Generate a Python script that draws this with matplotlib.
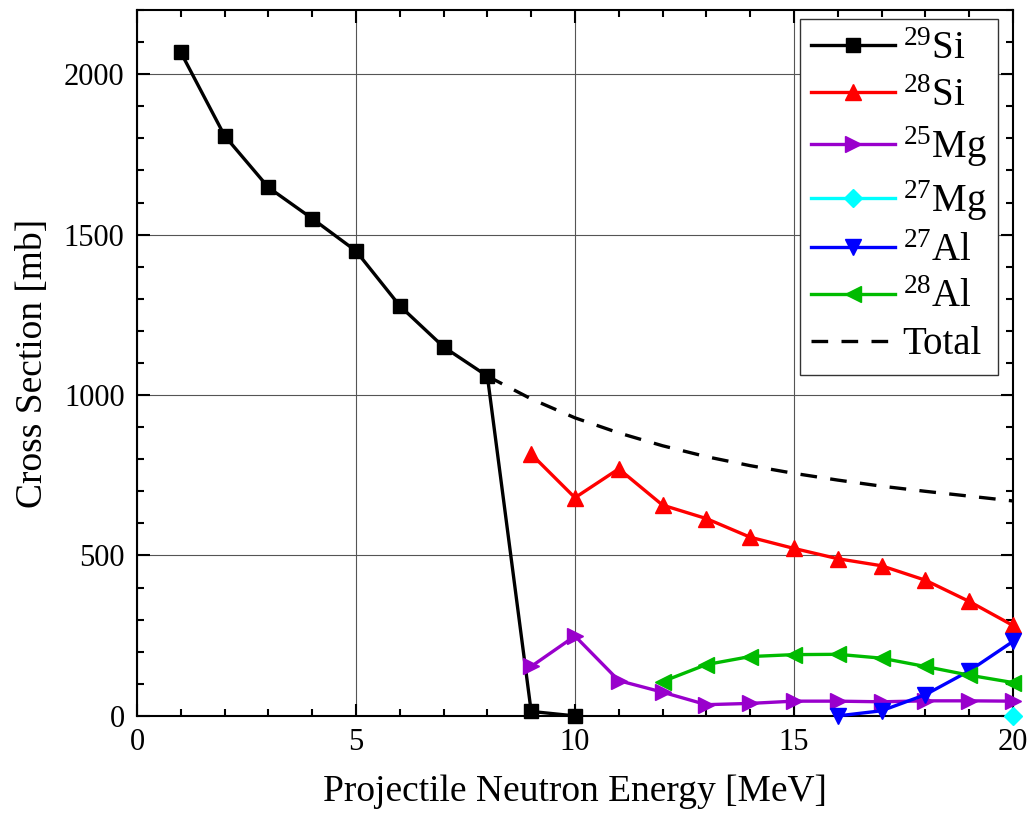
import numpy as np
import matplotlib
matplotlib.use("Agg")
import matplotlib.pyplot as plt
from matplotlib.ticker import MultipleLocator

plt.rcParams['font.family'] = 'Liberation Serif'
plt.rcParams['mathtext.fontset'] = 'custom'
plt.rcParams['mathtext.rm'] = 'Liberation Serif'
plt.rcParams['mathtext.it'] = 'Liberation Serif:italic'

# cross sections in mb vs projectile energy in MeV
e_si29 = [1, 2, 3, 4, 5, 6, 7, 8, 9, 10]
si29 = [2068, 1808, 1647, 1550, 1449, 1278, 1150, 1059, 14, 0]

e_si28 = [9, 10, 11, 12, 13, 14, 15, 16, 17, 18, 19, 20]
si28 = [816, 680, 770, 657, 615, 557, 522, 490, 468, 423, 357, 282]

e_mg25 = [9, 10, 11, 12, 13, 14, 15, 16, 17, 18, 19, 20]
mg25 = [154, 249, 110, 74, 35, 39, 46, 46, 44, 47, 47, 46]

e_mg27 = [20]
mg27 = [0]

e_al27 = [16, 17, 18, 19, 20]
al27 = [0, 16, 66, 140, 232]

e_al28 = [12, 13, 14, 15, 16, 17, 18, 19, 20]
al28 = [107, 160, 185, 191, 192, 180, 154, 127, 104]

e_total = [8, 9, 10, 11, 12, 13, 14, 15, 16, 17, 18, 19, 20]
total = [1059, 988, 929, 882, 842, 808, 780, 756, 735, 716, 700, 685, 670]

fig = plt.figure(figsize=(10.28, 8.21), dpi=100)
ax = fig.add_axes([0.1333, 0.128, 0.852, 0.8598])

lw = 2.4
ax.plot(e_si29, si29, '-s', color='black', lw=lw, ms=10, label=r'$^{29}$Si', clip_on=False, zorder=5)
ax.plot(e_si28, si28, '-^', color='#ff0000', lw=lw, ms=12, label=r'$^{28}$Si', clip_on=False, zorder=5)
ax.plot(e_mg25, mg25, '->', color='#9900cc', lw=lw, ms=12, label=r'$^{25}$Mg', clip_on=False, zorder=5)
ax.plot(e_mg27, mg27, '-D', color='#00ffff', lw=lw, ms=9, label=r'$^{27}$Mg', clip_on=False, zorder=7)
ax.plot(e_al27, al27, '-v', color='#0000ff', lw=lw, ms=12, label=r'$^{27}$Al', clip_on=False, zorder=5)
ax.plot(e_al28, al28, '-<', color='#00bb00', lw=lw, ms=12, label=r'$^{28}$Al', clip_on=False, zorder=5)
ax.plot(e_total, total, '--', color='black', lw=lw, dashes=(5, 4), label='Total', zorder=4)

ax.set_xlim(0, 20)
ax.set_ylim(0, 2200)
ax.xaxis.set_major_locator(MultipleLocator(5))
ax.xaxis.set_minor_locator(MultipleLocator(1))
ax.yaxis.set_major_locator(MultipleLocator(500))
ax.yaxis.set_minor_locator(MultipleLocator(100))
ax.tick_params(which='both', direction='in', top=True, right=True, width=1.5, labelsize=22)
ax.tick_params(which='major', length=9, pad=9)
ax.tick_params(which='minor', length=5)
for s in ax.spines.values():
    s.set_linewidth(1.5)
ax.grid(True, which='major', color='#555555', lw=0.8)
ax.set_axisbelow(True)

ax.set_xlabel('Projectile Neutron Energy [MeV]', fontsize=27, labelpad=12)
ax.set_ylabel('Cross Section [mb]', fontsize=27, labelpad=10)

leg = ax.legend(loc='upper right', fontsize=28, numpoints=1, handlelength=2.15,
                labelspacing=0.25, borderpad=0.3, handletextpad=0.2,
                borderaxespad=0, fancybox=False, framealpha=1, edgecolor='#333333',
                bbox_to_anchor=(0.983, 0.987))
leg.get_frame().set_linewidth(1.0)

fig.savefig('out.png', dpi=100)
